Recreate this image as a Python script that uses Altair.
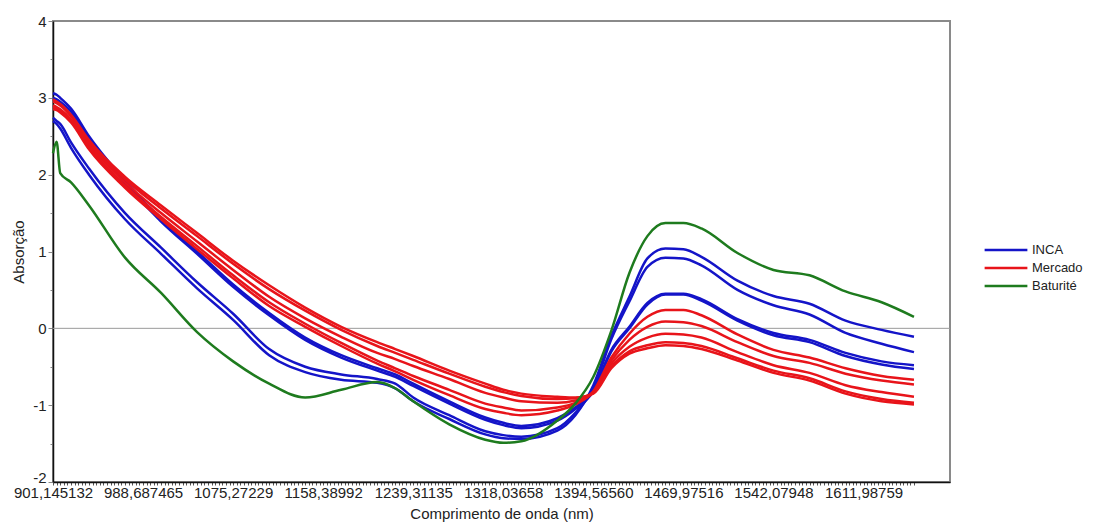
import altair as alt
import pandas as pd

# sample positions (spectral point index, 0..239)
IDX = [0, 1, 2, 5, 10, 20, 30, 40, 50, 60, 70, 80, 90, 95, 100, 110, 120, 125, 130,
       140, 145, 150, 155, 160, 165, 170, 175, 180, 190, 200, 210, 220, 230, 239]

TICK_LABELS = ["901,145132", "988,687465", "1075,27229", "1158,38992", "1239,31135",
               "1318,03658", "1394,56560", "1469,97516", "1542,07948", "1611,98759"]
TICK_STEP = 25

GROUPS = ["INCA", "Mercado", "Baturité"]
COLORS = ["#1414c8", "#e8141a", "#1e7b1e"]

inca_1 = [2.70, 2.66, 2.60, 2.35, 2.00, 1.42, 0.97, 0.52, 0.11, -0.35, -0.57, -0.67, -0.71, -0.78,
          -0.95, -1.18, -1.38, -1.43, -1.44, -1.33, -1.13, -0.74, -0.10, 0.41, 0.91, 1.04, 1.03,
          0.93, 0.62, 0.42, 0.32, 0.10, -0.02, -0.11]
inca_2 = [2.74, 2.70, 2.66, 2.42, 2.08, 1.50, 1.05, 0.60, 0.19, -0.27, -0.50, -0.60, -0.66, -0.72,
          -0.90, -1.13, -1.34, -1.39, -1.41, -1.30, -1.10, -0.78, -0.14, 0.35, 0.80, 0.92, 0.91,
          0.82, 0.50, 0.30, 0.18, -0.06, -0.20, -0.31]
inca_3 = [3.06, 3.04, 3.00, 2.86, 2.50, 1.92, 1.42, 1.00, 0.57, 0.20, -0.12, -0.35, -0.52, -0.60,
          -0.72, -0.95, -1.16, -1.23, -1.27, -1.17, -1.03, -0.80, -0.28, 0.02, 0.33, 0.45, 0.45,
          0.38, 0.12, -0.06, -0.15, -0.32, -0.43, -0.48]
inca_4 = [3.00, 2.98, 2.95, 2.82, 2.47, 1.89, 1.39, 0.97, 0.54, 0.17, -0.15, -0.38, -0.55, -0.63,
          -0.75, -0.98, -1.19, -1.26, -1.30, -1.20, -1.05, -0.82, -0.30, 0.00, 0.31, 0.44, 0.44,
          0.36, 0.10, -0.09, -0.18, -0.36, -0.47, -0.53]

merc_1 = [2.85, 2.84, 2.81, 2.68, 2.33, 1.83, 1.42, 1.03, 0.65, 0.29, 0.02, -0.23, -0.46, -0.56,
          -0.67, -0.87, -1.05, -1.10, -1.13, -1.07, -0.99, -0.82, -0.38, -0.07, 0.15, 0.24, 0.24,
          0.17, -0.08, -0.28, -0.38, -0.52, -0.62, -0.67]
merc_2 = [2.88, 2.86, 2.83, 2.70, 2.36, 1.86, 1.45, 1.07, 0.69, 0.34, 0.06, -0.19, -0.42, -0.52,
          -0.62, -0.80, -0.98, -1.03, -1.07, -1.03, -0.97, -0.83, -0.42, -0.15, 0.02, 0.09, 0.08,
          0.03, -0.18, -0.36, -0.45, -0.59, -0.68, -0.73]
merc_3 = [2.90, 2.88, 2.85, 2.72, 2.39, 1.90, 1.50, 1.13, 0.76, 0.41, 0.13, -0.11, -0.32, -0.40,
          -0.49, -0.66, -0.84, -0.90, -0.95, -0.97, -0.94, -0.83, -0.46, -0.24, -0.12, -0.07, -0.08,
          -0.12, -0.31, -0.48, -0.58, -0.74, -0.83, -0.89]
merc_4 = [2.95, 2.93, 2.90, 2.76, 2.42, 1.94, 1.56, 1.20, 0.84, 0.51, 0.23, -0.02, -0.23, -0.32,
          -0.41, -0.59, -0.76, -0.83, -0.88, -0.92, -0.91, -0.84, -0.50, -0.30, -0.22, -0.18, -0.19,
          -0.23, -0.39, -0.55, -0.65, -0.82, -0.92, -0.97]
merc_5 = [2.98, 2.95, 2.92, 2.78, 2.45, 1.97, 1.60, 1.24, 0.88, 0.56, 0.27, 0.02, -0.18, -0.27,
          -0.36, -0.55, -0.72, -0.80, -0.85, -0.89, -0.90, -0.85, -0.52, -0.33, -0.26, -0.22, -0.23,
          -0.27, -0.42, -0.58, -0.68, -0.85, -0.95, -0.99]

batu_1 = [2.28, 2.43, 2.02, 1.90, 1.60, 0.92, 0.46, -0.05, -0.43, -0.72, -0.90, -0.80, -0.70, -0.78,
          -0.95, -1.25, -1.45, -1.49, -1.47, -1.20, -0.98, -0.63, -0.03, 0.72, 1.20, 1.37, 1.37,
          1.30, 0.98, 0.76, 0.69, 0.48, 0.34, 0.15]

SERIES = [
    ("INCA", "inca_1", inca_1), ("INCA", "inca_2", inca_2),
    ("INCA", "inca_3", inca_3), ("INCA", "inca_4", inca_4),
    ("Mercado", "merc_1", merc_1), ("Mercado", "merc_2", merc_2),
    ("Mercado", "merc_3", merc_3), ("Mercado", "merc_4", merc_4),
    ("Mercado", "merc_5", merc_5),
    ("Baturité", "batu_1", batu_1),
]

rows = []
for grp, name, vals in SERIES:
    for i, v in zip(IDX, vals):
        rows.append({"grupo": grp, "serie": name, "idx": i, "abs": v})
df = pd.DataFrame(rows)

FONT = "Liberation Sans"
label_array = "[" + ",".join("'" + s + "'" for s in TICK_LABELS) + "]"
x_label_expr = f"datum.value % {TICK_STEP} === 0 ? {label_array}[datum.value / {TICK_STEP}] : ''"

x_axis = alt.Axis(
    values=list(range(0, 240)),
    labelExpr=x_label_expr,
    labelOverlap=False,
    labelFlush=False,
    labelBound=False,
    tickSize=3,
    tickColor="#555555",
    labelPadding=0,
    grid=False,
    title="Comprimento de onda (nm)",
    titlePadding=6,
)
y_axis = alt.Axis(
    values=[-2, -1.5, -1, -0.5, 0, 0.5, 1, 1.5, 2, 2.5, 3, 3.5, 4],
    labelExpr="datum.value % 1 === 0 ? '' + datum.value : ''",
    tickSize={"condition": {"test": "datum.value % 1 === 0", "value": 5}, "value": 3},
    labelOffset={"condition": {"test": "datum.value === -2", "value": -5}, "value": 0},
    labelPadding=2,
    grid=False,
    title="Absorção",
    titlePadding=6,
)

x_enc = alt.X("idx:Q", scale=alt.Scale(domain=[0, 249], nice=False, zero=False), axis=x_axis)
y_enc = alt.Y("abs:Q", scale=alt.Scale(domain=[-2, 4], nice=False, zero=False), axis=y_axis)

zero = alt.Chart(pd.DataFrame({"abs": [0]})).mark_rule(color="#9a9a9a", strokeWidth=1).encode(
    y=alt.Y("abs:Q", scale=alt.Scale(domain=[-2, 4], nice=False, zero=False), axis=y_axis)
)

lines = alt.Chart(df).mark_line(strokeWidth=2.5, interpolate="monotone").encode(
    x=x_enc,
    y=y_enc,
    detail="serie:N",
    color=alt.Color(
        "grupo:N",
        scale=alt.Scale(domain=GROUPS, range=COLORS),
        legend=alt.Legend(
            title=None,
            orient="none",
            legendX=942,
            legendY=218,
            symbolType="M-2.25,0H2.25",
            symbolSize=361,
            symbolStrokeWidth=2.5,
            labelFont=FONT,
            labelFontSize=13,
            labelColor="#222222",
            labelOffset=15,
            rowPadding=0,
            padding=0,
        ),
    ),
)

chart = alt.layer(zero, lines).properties(
    width=897,
    height=461,
    padding={"left": 45, "top": 13, "right": 135, "bottom": 40},
    autosize=alt.AutoSizeParams(type="none"),
).configure_view(
    stroke="#8a8a8a", strokeWidth=2
).configure_axis(
    domainColor="#111111",
    domainWidth=1.5,
    labelFont=FONT,
    labelFontSize=15,
    labelColor="#222222",
    titleFont=FONT,
    titleFontSize=15,
    titleFontWeight="normal",
    titleColor="#222222",
)

chart.save("out.html", embed_options={"renderer": "svg", "actions": False})
